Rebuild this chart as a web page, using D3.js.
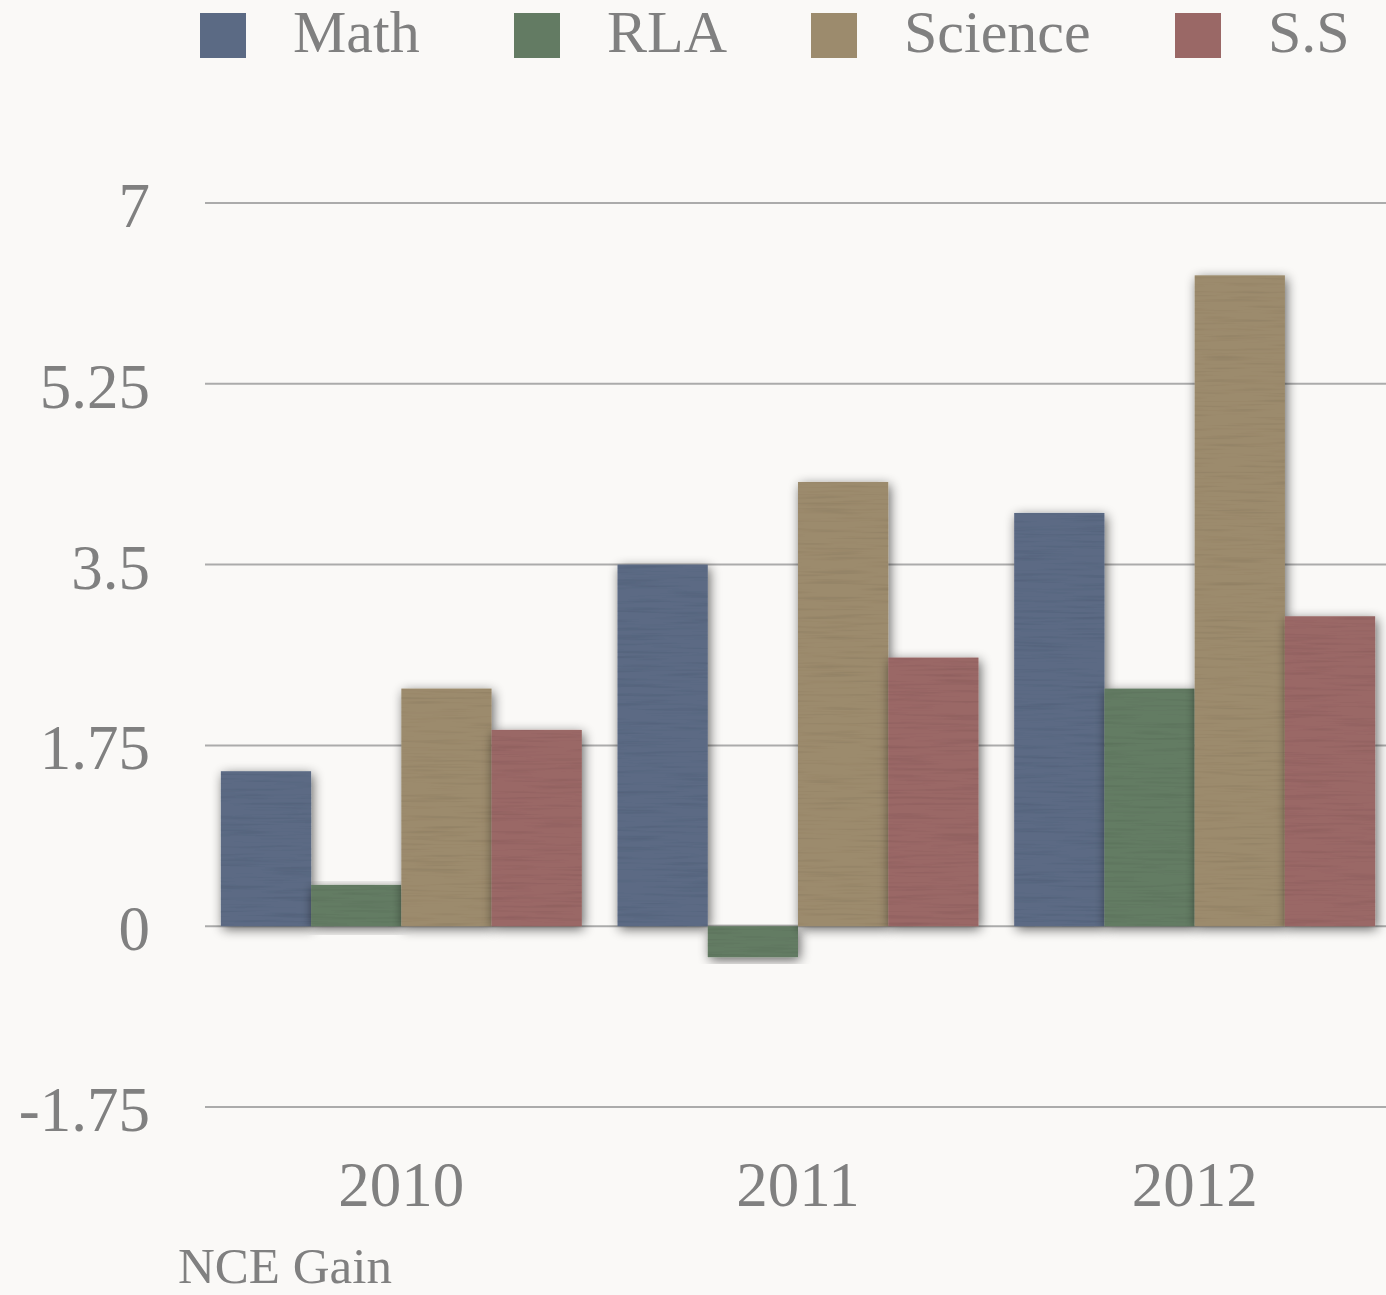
<!DOCTYPE html>
<html><head><meta charset="utf-8">
<script src="https://cdn.jsdelivr.net/npm/d3@7"></script>
<style>
html,body{margin:0;padding:0;background:#faf9f7;}
svg{display:block;}
text{font-family:"Liberation Serif","DejaVu Serif",serif;fill:#808080;}
</style></head>
<body>
<svg id="chart" width="1386" height="1295"></svg>
<script>
const years = ["2010", "2011", "2012"];
const subjects = ["Math", "RLA", "Science", "S.S"];
const mathVals = [1.5, 3.5, 4.0];
const rlaVals = [0.4, -0.3, 2.3];
const scienceVals = [2.3, 4.3, 6.3];
const ssVals = [1.9, 2.6, 3.0];
const yTicks = [-1.75, 0, 1.75, 3.5, 5.25, 7];
const yTickLabels = ["-1.75", "0", "1.75", "3.5", "5.25", "7"];
const colors = ["#5b6a84", "#637b63", "#9c8b6d", "#9a6866"];
const axisTitle = "NCE Gain";

const seriesVals = [mathVals, rlaVals, scienceVals, ssVals];
const data = years.flatMap((yr, i) => subjects.map((s, j) => ({year: yr, subject: s, value: seriesVals[j][i]})));

const svg = d3.select("#chart");
const defs = svg.append("defs");
const f = defs.append("filter").attr("id", "tex").attr("x", "-15%").attr("y", "-15%").attr("width", "135%").attr("height", "135%");
f.append("feTurbulence").attr("type", "fractalNoise").attr("baseFrequency", "0.015 0.35").attr("numOctaves", 2).attr("seed", 3).attr("result", "noise");
f.append("feColorMatrix").attr("in", "noise").attr("type", "matrix")
  .attr("values", "0 0 0 0 0  0 0 0 0 0  0 0 0 0 0  0 0 0 -0.35 0.18").attr("result", "shade");
f.append("feComposite").attr("in", "shade").attr("in2", "SourceGraphic").attr("operator", "in").attr("result", "shadeIn");
f.append("feMerge").attr("result", "texd").call(m => { m.append("feMergeNode").attr("in", "SourceGraphic"); m.append("feMergeNode").attr("in", "shadeIn"); });
f.append("feGaussianBlur").attr("in", "SourceAlpha").attr("stdDeviation", 6).attr("result", "blur");
f.append("feOffset").attr("in", "blur").attr("dx", 2).attr("dy", 3).attr("result", "off");
f.append("feComponentTransfer").attr("in", "off").attr("result", "shadow")
  .append("feFuncA").attr("type", "linear").attr("slope", 0.6);
f.append("feMerge").call(m => { m.append("feMergeNode").attr("in", "shadow"); m.append("feMergeNode").attr("in", "texd"); });

const y = d3.scaleLinear().domain([-1.75, 7]).range([1107, 203]);
const x0 = d3.scaleBand().domain(years).range([203, 1393]).paddingInner(0.09).paddingOuter(0.045);
const x1 = d3.scaleBand().domain(subjects).range([0, x0.bandwidth()]);
const color = d3.scaleOrdinal().domain(subjects).range(colors);

// grid lines
svg.append("g").selectAll("line").data(yTicks).join("line")
  .attr("x1", 205).attr("x2", 1386)
  .attr("y1", d => y(d)).attr("y2", d => y(d))
  .attr("stroke", "#ababab").attr("stroke-width", 2);

// y tick labels
svg.append("g").selectAll("text").data(yTicks).join("text")
  .attr("x", 150).attr("y", d => y(d) + 24)
  .attr("text-anchor", "end").attr("font-size", 63)
  .text((d, i) => yTickLabels[i]);

// bars
svg.append("g").selectAll("rect").data(data).join("rect")
  .attr("x", d => x0(d.year) + x1(d.subject))
  .attr("width", x1.bandwidth())
  .attr("y", d => y(Math.max(0, d.value)))
  .attr("height", d => Math.abs(y(d.value) - y(0)))
  .attr("fill", d => color(d.subject))
  .attr("filter", "url(#tex)");

// x labels
svg.append("g").selectAll("text").data(years).join("text")
  .attr("x", d => x0(d) + x0.bandwidth() / 2)
  .attr("y", 1206).attr("text-anchor", "middle").attr("font-size", 63)
  .text(d => d);

svg.append("text").attr("x", 178).attr("y", 1283).attr("font-size", 51).text(axisTitle);

// legend
const legendX = [200, 514, 811, 1175];
const lg = svg.append("g");
subjects.forEach((s, i) => {
  lg.append("rect").attr("x", legendX[i]).attr("y", 13).attr("width", 46).attr("height", 45)
    .attr("fill", color(s));
  lg.append("text").attr("x", legendX[i] + 93).attr("y", 52).attr("font-size", 60).text(s);
});
</script>
</body></html>
